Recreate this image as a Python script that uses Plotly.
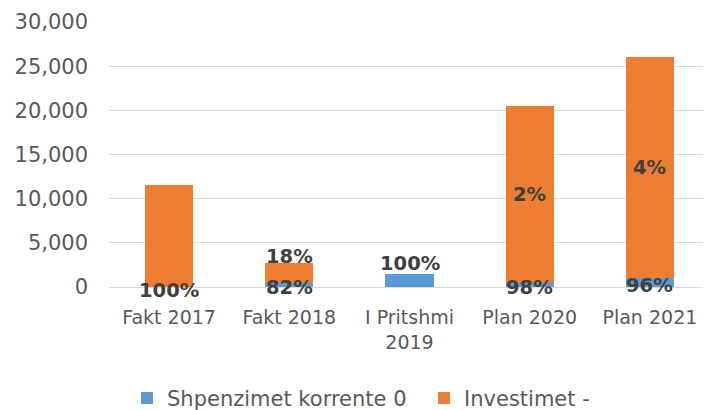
import plotly.graph_objects as go

categories = ["Fakt 2017", "Fakt 2018", "I Pritshmi<br>2019", "Plan 2020", "Plan 2021"]
shpenzimet = [0, 500, 1500, 500, 1000]
investimet = [11500, 2200, 0, 20000, 25000]
shpenzimet_labels = ["100%", "82%", "100%", "98%", "96%"]
investimet_labels = ["", "18%", "", "2%", "4%"]
series_names = ["Shpenzimet korrente 0", "Investimet -"]
y_ticks = [0, 5000, 10000, 15000, 20000, 25000, 30000]

BLUE = "#5B9BD5"
ORANGE = "#ED7D31"
TXT = "#595959"
LBL = "#404040"
FONT = "DejaVu Sans, Verdana, sans-serif"

fig = go.Figure()
fig.add_trace(go.Bar(x=categories, y=shpenzimet, name=series_names[0],
                     marker=dict(color=BLUE, line=dict(width=0))))
fig.add_trace(go.Bar(x=categories, y=investimet, name=series_names[1],
                     marker=dict(color=ORANGE, line=dict(width=0))))

annotations = []
for c, b, o, bl, ol in zip(categories, shpenzimet, investimet, shpenzimet_labels, investimet_labels):
    total = b + o
    if bl:
        if o == 0 and b > 0:
            annotations.append(dict(x=c, y=total, text=bl, yanchor="bottom", yshift=-3,
                                    showarrow=False))
        else:
            annotations.append(dict(x=c, y=b / 2, text=bl, yanchor="middle", yshift=-3,
                                    showarrow=False))
    if ol:
        if o < 3000:
            annotations.append(dict(x=c, y=total, text=ol, yanchor="bottom", yshift=-7,
                                    showarrow=False))
        else:
            annotations.append(dict(x=c, y=b + o / 2, text=ol, yanchor="middle",
                                    showarrow=False))
for a in annotations:
    a["font"] = dict(family=FONT, size=19.5, color=LBL, weight="bold")
    a["xref"] = "x"
    a["yref"] = "y"

fig.update_layout(
    barmode="stack",
    bargap=0.6,
    width=711, height=410,
    margin=dict(l=101, r=9, t=14, b=131, autoexpand=False),
    paper_bgcolor="white",
    plot_bgcolor="white",
    font=dict(family=FONT, color=TXT, size=19),
    showlegend=True,
    legend=dict(orientation="h", x=0.03, xanchor="left", y=-0.42, yanchor="middle",
                font=dict(size=21, color=TXT, family=FONT), itemsizing="constant",
                traceorder="normal", entrywidth=252, entrywidthmode="pixels"),
    annotations=annotations,
)
fig.update_yaxes(range=[0, 30000], tickvals=y_ticks, tickformat=",",
                 showgrid=True, gridcolor="#D9D9D9", gridwidth=1,
                 zeroline=False, showline=False, ticks="", automargin=False,
                 tickfont=dict(size=21, color=TXT), ticklabelstandoff=20)
fig.update_xaxes(showline=True, linecolor="#D9D9D9", linewidth=1, ticks="", automargin=False,
                 tickfont=dict(size=19, color=TXT), ticklabelstandoff=13)

fig.write_html("out.html")
